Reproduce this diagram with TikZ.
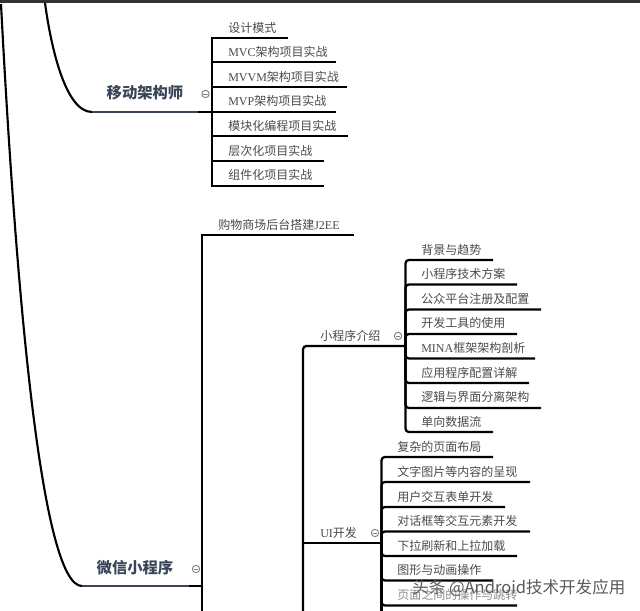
\documentclass[tikz,border=0pt]{standalone}
\usepackage{fontspec}
\setmainfont{Noto Sans CJK SC}
\newfontfamily\latinpart{Liberation Serif}
\usetikzlibrary{positioning}
\definecolor{labelgray}{HTML}{4A4A4A}
\definecolor{headnavy}{HTML}{3A4658}
\tikzset{
  leaf/.style={anchor=west,inner sep=0pt,text=labelgray,font=\fontsize{9}{9}\selectfont},
  head/.style={inner sep=0pt,text=headnavy,font=\fontsize{11.5}{12}\selectfont\bfseries},
  foldmark/.style={circle,draw=gray,line width=0.7pt,inner sep=0pt,minimum size=5.5pt,
    path picture={\draw [gray,line width=0.5pt] ([xshift=1pt]path picture bounding box.west) -- ([xshift=-1pt]path picture bounding box.east);}},
  branch/.style={draw=black,line width=1.7pt},
  soft/.style={branch,rounded corners=2.5pt},
  trunk/.style={draw=black,line width=1.6pt},
  headline/.style={draw=headnavy,line width=1.9pt},
}
\begin{document}
\begin{tikzpicture}[x=0.75pt,y=-0.75pt]
\useasboundingbox (0,0) rectangle (640,611);
\fill [black!80] (0,0) rectangle (640,3);
% trunks
\coordinate (top1) at (1,4);
\coordinate (top2) at (45,3);
\coordinate (archstart) at (92,112);
\coordinate (archend) at (198,112);
\coordinate (wxstart) at (82,586);
\coordinate (wxend) at (189,586);
\draw [trunk] (top1) .. controls (18,330) and (44,586) .. (wxstart);
\draw [trunk] (top2) .. controls (50,40) and (64,112) .. (archstart);
\draw [headline] (archstart) -- (archend);
\draw [headline] (wxstart) -- (wxend);
% mobile architect
\node [head] (arch) at (145,93) {移动架构师};
\node [foldmark] (archfold) at (205.5,94) {};
\coordinate (archhub) at (212,112);
\draw [branch] (archend) -- (archhub);
\node [leaf] (arch1) at (228,28) {设计模式};
\node [leaf] (arch2) at (228,52) {{\latinpart MVC}架构项目实战};
\node [leaf] (arch3) at (228,77) {{\latinpart MVVM}架构项目实战};
\node [leaf] (arch4) at (228,101) {{\latinpart MVP}架构项目实战};
\node [leaf] (arch5) at (228,126) {模块化编程项目实战};
\node [leaf] (arch6) at (228,151) {层次化项目实战};
\node [leaf] (arch7) at (228,175) {组件化项目实战};
\coordinate (archend1) at (288,38);
\coordinate (archend2) at (336,62);
\coordinate (archend3) at (347,87);
\coordinate (archend4) at (336,112);
\coordinate (archend5) at (348,136);
\coordinate (archend6) at (324,161);
\coordinate (archend7) at (324,186);
\draw [branch] (archhub) |- (archend1);
\draw [branch] (archhub) |- (archend2);
\draw [branch] (archhub) |- (archend3);
\draw [branch] (archhub) -- (archend4);
\draw [branch] (archhub) |- (archend5);
\draw [branch] (archhub) |- (archend6);
\draw [branch] (archhub) |- (archend7);
% mini program
\node [head] (wx) at (135,568) {微信小程序};
\node [foldmark] (wxfold) at (196,569) {};
\coordinate (wxhub) at (202,586);
\coordinate (wxbottom) at (202,611);
\coordinate (mallend) at (354,235);
\draw [branch] (wxend) -- (wxhub);
\draw [branch] (wxbottom) |- (mallend);
\node [leaf] (mall) at (218,225) {购物商场后台搭建{\latinpart J2EE}};
% intro branch
\coordinate (introhub) at (405.5,346);
\coordinate (uicol) at (303,611);
\draw [soft] (uicol) |- (introhub);
\node [leaf] (intro) at (320,336) {小程序介绍};
\node [foldmark] (introfold) at (398,336) {};
\node [leaf] (intro1) at (421,250) {背景与趋势};
\node [leaf] (intro2) at (421,274) {小程序技术方案};
\node [leaf] (intro3) at (421,299) {公众平台注册及配置};
\node [leaf] (intro4) at (421,323) {开发工具的使用};
\node [leaf] (intro5) at (421,348) {{\latinpart MINA}框架架构剖析};
\node [leaf] (intro6) at (421,373) {应用程序配置详解};
\node [leaf] (intro7) at (421,397) {逻辑与界面分离架构};
\node [leaf] (intro8) at (421,422) {单向数据流};
\coordinate (introend1) at (493,260);
\coordinate (introend2) at (517,284.5);
\coordinate (introend3) at (541,309.5);
\coordinate (introend4) at (517,334);
\coordinate (introend5) at (535,358.5);
\coordinate (introend6) at (529,383);
\coordinate (introend7) at (541,408);
\coordinate (introend8) at (493,432);
\draw [soft] (introhub) |- (introend1);
\draw [soft] (introhub) |- (introend2);
\draw [soft] (introhub) |- (introend3);
\draw [soft] (introhub) |- (introend4);
\draw [soft] (introhub) |- (introend5);
\draw [soft] (introhub) |- (introend6);
\draw [soft] (introhub) |- (introend7);
\draw [soft] (introhub) |- (introend8);
% ui branch
\coordinate (uihub) at (381.5,543);
\coordinate (uijoint) at (303,543);
\draw [branch] (uijoint) -- (uihub);
\node [leaf] (ui) at (320,533) {{\latinpart UI}开发};
\node [foldmark] (uifold) at (375,533) {};
\node [leaf] (ui1) at (397,447) {复杂的页面布局};
\node [leaf] (ui2) at (397,472) {文字图片等内容的呈现};
\node [leaf] (ui3) at (397,497) {用户交互表单开发};
\node [leaf] (ui4) at (397,521) {对话框等交互元素开发};
\node [leaf] (ui5) at (397,546) {下拉刷新和上拉加载};
\node [leaf] (ui6) at (397,570) {图形与动画操作};
\node [leaf,text=black!45] (ui7) at (397,595) {页面之间的操作与跳转};
\coordinate (uiend1) at (493,457);
\coordinate (uiend2) at (530,482);
\coordinate (uiend3) at (505,507);
\coordinate (uiend4) at (530,531.5);
\coordinate (uiend5) at (517,556);
\coordinate (uiend6) at (493,580.5);
\coordinate (uiend7) at (517,605.5);
\coordinate (uibottom) at (381.5,611);
\draw [soft] (uihub) |- (uiend1);
\draw [soft] (uihub) |- (uiend2);
\draw [soft] (uihub) |- (uiend3);
\draw [soft] (uihub) |- (uiend4);
\draw [soft] (uihub) |- (uiend5);
\draw [soft] (uihub) |- (uiend6);
\draw [soft] (uihub) |- (uiend7);
\draw [branch] (uihub) -- (uibottom);
% watermark
\node [anchor=west,inner sep=0pt,text=black!65,font=\fontsize{12.4}{13}\selectfont] (mark) at (412,588) {头条 @Android技术开发应用};
\end{tikzpicture}
\end{document}
